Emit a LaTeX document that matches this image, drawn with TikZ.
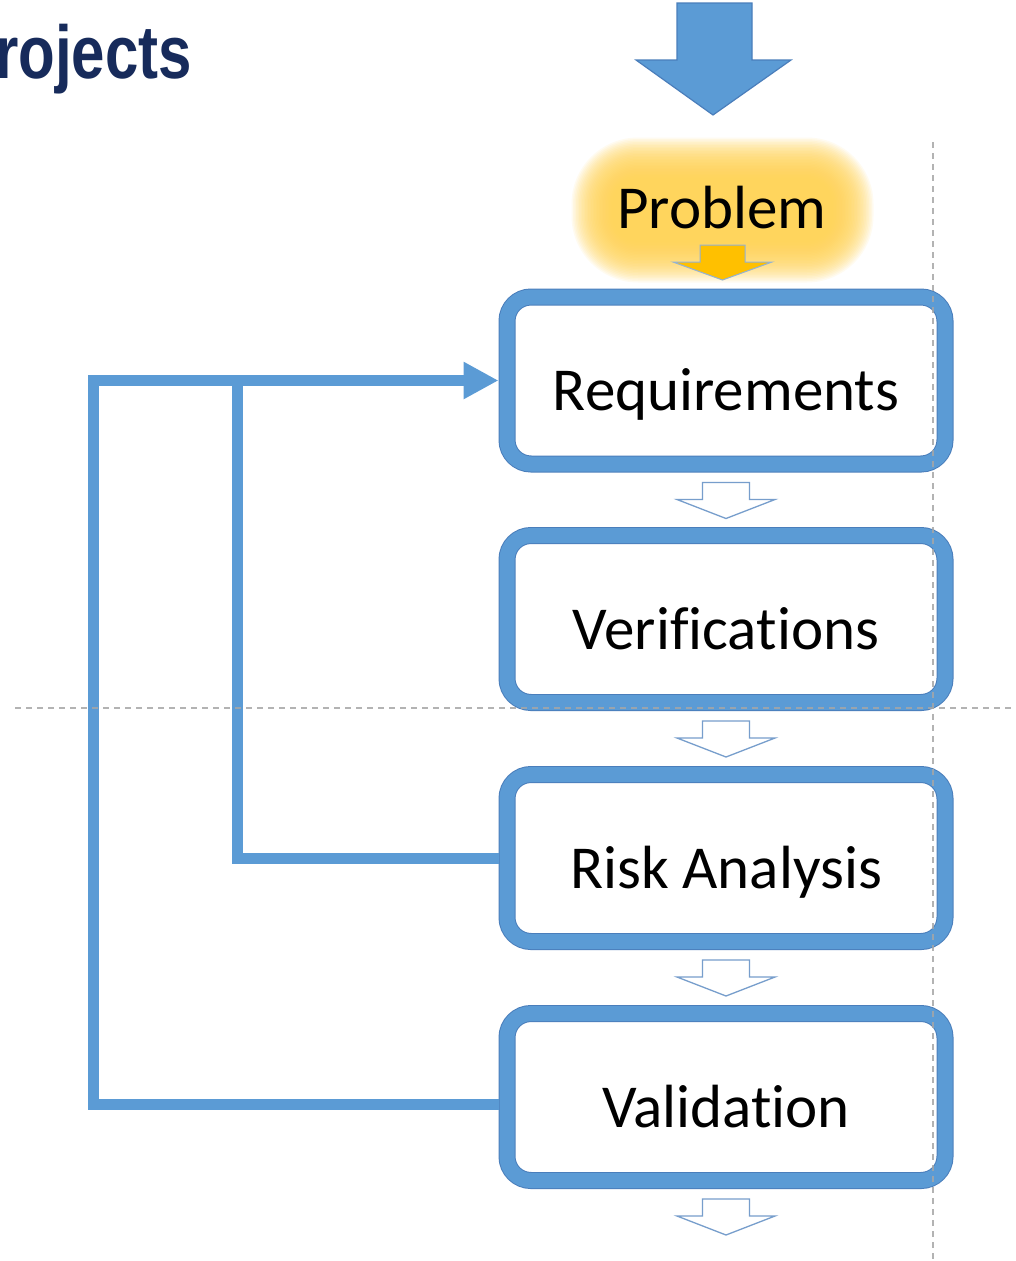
\documentclass[tikz,border=0pt]{standalone}
\usepackage{fontspec}
\setmainfont{Carlito}[RawFeature={-liga}]
\newfontfamily\titlefont{Liberation Sans}
\usetikzlibrary{calc,arrows.meta}
\definecolor{boxblue}{HTML}{5B9BD5}
\definecolor{edgeblue}{HTML}{4A7EBB}
\definecolor{navy}{HTML}{172B5B}
\definecolor{glowcol}{HTML}{FFD555}
\definecolor{gold}{HTML}{FFC000}
\definecolor{guide}{HTML}{A6A6A6}
\tikzset{
  stagebox/.style={draw=edgeblue, line width=1pt, double=boxblue, double distance=15pt,
    rounded corners=24pt, fill=white, minimum width=438pt, minimum height=167pt,
    outer sep=8.5pt, inner sep=0pt, text height=60pt, text depth=0pt,
    font=\fontsize{61}{70}\selectfont},
  feedback/.style={draw=boxblue, line width=11pt, line join=miter},
  hollowarrow/.style={draw=edgeblue!75, fill=white, line width=1.3pt, line join=miter},
  guideline/.style={draw=guide, line width=1.6pt, dash pattern=on 6pt off 5pt},
  bigarrow/.style={fill=boxblue, draw=edgeblue, line width=1.2pt, line join=miter},
  goldarrow/.style={fill=gold, draw=edgeblue!60, line width=1pt, line join=miter},
}
\newcommand\flowarrow[1]{%
  \draw[hollowarrow] ($(#1.south)+(-23.5,10)$) -- ++(47,0) -- ++(0,17) -- ++(25.5,0)
    -- ++(-49,19) -- ++(-49,-19) -- ++(25.5,0) -- cycle;}
\begin{document}
\begin{tikzpicture}[x=1pt,y=-1pt]
\useasboundingbox (0,0) rectangle (1015,1261);
\fill[white] (0,0) rectangle (1015,1261);

% title
\node[anchor=base west, inner sep=0pt, text=navy,
  font=\titlefont\bfseries\fontsize{75}{80}\selectfont] (title) at (-5,78)
  {\scalebox{0.8}[1]{rojects}};

% big incoming arrow
\draw[bigarrow] (677,3) -- (752,3) -- (752,60) -- (791,60) -- (713,115)
  -- (636,60) -- (677,60) -- cycle;

% glow behind Problem
\foreach \i in {0,...,27}{
  \fill[glowcol, opacity=0.085, rounded corners={26pt+1.5*\i pt}]
    (612-1.5*\i,178-1.5*\i) rectangle (833+1.5*\i,242+1.5*\i);
}
\node[inner sep=0pt, anchor=base, font=\fontsize{61}{70}\selectfont] (prob) at (722,228) {Problem};
\draw[goldarrow] (700,245) -- (745,245) -- (745,262) -- (772,262) -- (722.5,280)
  -- (673,262) -- (700,262) -- cycle;

% stage boxes
\node[stagebox] (req)  at (726,380.5) {Requirements};
\node[stagebox] (ver)  at (726,619)   {Verifications};
\node[stagebox] (risk) at (726,858)   {Risk Analysis};
\node[stagebox] (val)  at (726,1097)  {Validation};

% hollow flow arrows
\flowarrow{req}
\flowarrow{ver}
\flowarrow{risk}
\flowarrow{val}

% feedback loops
\coordinate (loopL) at (93,1104);
\coordinate (loopM) at (237,379);
\draw[feedback, -{Triangle[length=35pt,width=35pt]}]
  ($(val.west)+(0,7)$) -- (loopL) |- (req.west);
\draw[feedback] (risk.west) -| (loopM);

% guide lines
\draw[guideline, opacity=0.85] (933,142) -- (933,1261);
\draw[guideline, opacity=0.85] (15,708) -- (1015,708);
\end{tikzpicture}
\end{document}
